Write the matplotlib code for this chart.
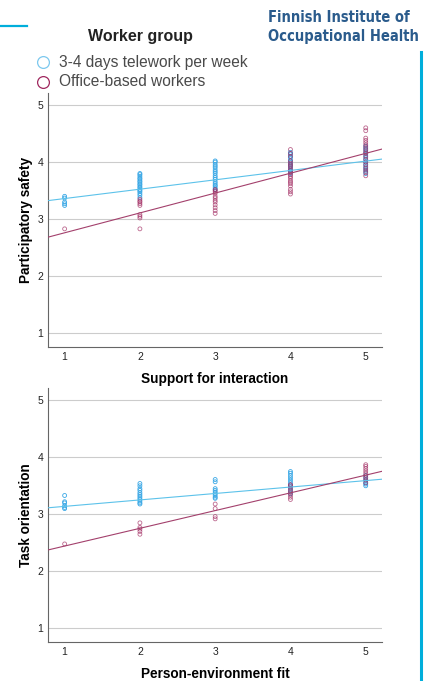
import matplotlib
matplotlib.use("Agg")
import matplotlib.pyplot as plt
from matplotlib.lines import Line2D
import numpy as np

plt.rcParams["font.family"] = ["Liberation Sans", "DejaVu Sans"]

levels = [1, 2, 3, 4, 5]
group_labels = ["3-4 days telework per week", "Office-based workers"]

# Participatory safety by support for interaction (one list per level)
ps_tele = [
    [3.24, 3.27, 3.30, 3.37, 3.40],
    [3.38, 3.42, 3.45, 3.48, 3.50, 3.52, 3.55, 3.57, 3.60, 3.62, 3.65, 3.67, 3.70, 3.72, 3.75, 3.78, 3.80],
    [3.52, 3.55, 3.58, 3.60, 3.63, 3.66, 3.70, 3.73, 3.76, 3.80, 3.83, 3.86, 3.90, 3.93, 3.96, 4.00, 4.02],
    [3.80, 3.83, 3.86, 3.90, 3.93, 3.96, 4.00, 4.03, 4.07, 4.10, 4.14, 4.17],
    [3.80, 3.84, 3.88, 3.92, 3.96, 4.00, 4.04, 4.08, 4.12, 4.16, 4.20, 4.24, 4.28],
]
ps_office = [
    [2.83],
    [2.83, 3.02, 3.05, 3.08, 3.24, 3.27, 3.30, 3.32, 3.35],
    [3.10, 3.15, 3.20, 3.25, 3.30, 3.33, 3.37, 3.40, 3.45, 3.48, 3.50, 3.52],
    [3.44, 3.48, 3.52, 3.58, 3.62, 3.65, 3.68, 3.72, 3.75, 3.78, 3.82, 3.85, 3.88, 3.92, 3.95, 3.98, 4.02, 4.10, 4.15, 4.22],
    [3.76, 3.82, 3.86, 3.90, 3.95, 4.00, 4.05, 4.10, 4.15, 4.18, 4.22, 4.26, 4.30, 4.34, 4.38, 4.42, 4.55, 4.60],
]
# Task orientation by person-environment fit
to_tele = [
    [3.10, 3.12, 3.15, 3.20, 3.22, 3.33],
    [3.18, 3.20, 3.23, 3.26, 3.29, 3.32, 3.35, 3.38, 3.42, 3.45, 3.50, 3.54],
    [3.28, 3.30, 3.33, 3.36, 3.39, 3.42, 3.45, 3.57, 3.61],
    [3.36, 3.40, 3.44, 3.48, 3.52, 3.56, 3.60, 3.64, 3.68, 3.72, 3.75],
    [3.50, 3.53, 3.56, 3.60, 3.64, 3.68],
]
to_office = [
    [2.48],
    [2.65, 2.70, 2.74, 2.77, 2.85],
    [2.92, 2.96, 3.10, 3.18],
    [3.26, 3.30, 3.34, 3.38, 3.42, 3.46, 3.50, 3.52],
    [3.55, 3.60, 3.64, 3.68, 3.72, 3.76, 3.80, 3.84, 3.87],
]
# linear fit lines (intercept, slope)
ps_fit_tele = (3.197, 0.164)
ps_fit_office = (2.413, 0.348)
to_fit_tele = (3.026, 0.113)
to_fit_office = (2.132, 0.311)

BLUE = "#3aa8e6"
BLUE_LINE = "#5cc2ea"
MAROON = "#a0285f"
MAROON_LINE = "#a3406c"
CYAN = "#00aedb"


def panel(ax, tele, office, fit_tele, fit_office, xlabel, ylabel):
    for lev, vals in zip(levels, tele):
        ax.scatter([lev] * len(vals), vals, s=8, facecolors="none",
                   edgecolors=BLUE, linewidths=0.6, zorder=3)
    for lev, vals in zip(levels, office):
        ax.scatter([lev] * len(vals), vals, s=8, facecolors="none",
                   edgecolors=MAROON, linewidths=0.6, alpha=0.7, zorder=3)
    xl = (0.775, 5.22)
    xs = np.array(xl)
    ax.plot(xs, fit_tele[0] + fit_tele[1] * xs, color=BLUE_LINE, lw=0.8, zorder=4)
    ax.plot(xs, fit_office[0] + fit_office[1] * xs, color=MAROON_LINE, lw=0.8, zorder=4)
    ax.set_xlim(*xl)
    ax.set_ylim(0.765, 5.21)
    ax.set_xticks(levels)
    ax.set_yticks([1, 2, 3, 4, 5])
    ax.tick_params(length=0, labelsize=7.5, colors="#222222", pad=3)
    ax.tick_params(axis="x", pad=3.5)
    ax.grid(axis="y", color="#cccccc", lw=0.8)
    ax.set_axisbelow(True)
    for side in ("top", "right"):
        ax.spines[side].set_visible(False)
    for side in ("left", "bottom"):
        ax.spines[side].set_color("#666666")
        ax.spines[side].set_linewidth(0.8)
    ax.set_xlabel(xlabel, fontsize=9.8, fontweight="bold", labelpad=7.5)
    ax.set_ylabel(ylabel, fontsize=9.8, fontweight="bold", labelpad=3.5)


fig = plt.figure(figsize=(4.27, 6.81), dpi=100)
ax1 = fig.add_axes([0.1117, 0.4909, 0.7836, 0.3725])
ax2 = fig.add_axes([0.1117, 0.0577, 0.7836, 0.3721])
panel(ax1, ps_tele, ps_office, ps_fit_tele, ps_fit_office,
      "Support for interaction", "Participatory safety")
panel(ax2, to_tele, to_office, to_fit_tele, to_fit_office,
      "Person-environment fit", "Task orientation")

W, H = 427, 681


def fx(px):
    return px / W


def fy(py):
    return 1 - py / H


# header
fig.add_artist(Line2D([0, fx(27)], [fy(25.5), fy(25.5)], color=CYAN, lw=1.6))
fig.add_artist(Line2D([fx(421), fx(421)], [fy(52), 0], color=CYAN, lw=2.2))
fig.text(fx(140), fy(37), "Worker group", fontsize=11.5, fontweight="bold",
         ha="center", va="center", color="#222222")
legend_colors = ["#7cc8ee", MAROON]
for i, (lab, col) in enumerate(zip(group_labels, legend_colors)):
    y = fy(62 + 20 * i)
    fig.add_artist(Line2D([fx(43)], [y], marker="o", markersize=8.5,
                          markerfacecolor="none", markeredgecolor=col, markeredgewidth=0.9))
    fig.text(fx(59), y, lab, fontsize=11.2, ha="left", va="center", color="#4a4a4a")

for i, line in enumerate(["Finnish Institute of", "Occupational Health"]):
    fig.text(fx(268), fy(17 + 19 * i), line, fontsize=10.5, fontweight="bold",
             family="DejaVu Sans", fontstretch="condensed",
             ha="left", va="center", color="#2a5b8c")

fig.savefig("out.png", dpi=100)
